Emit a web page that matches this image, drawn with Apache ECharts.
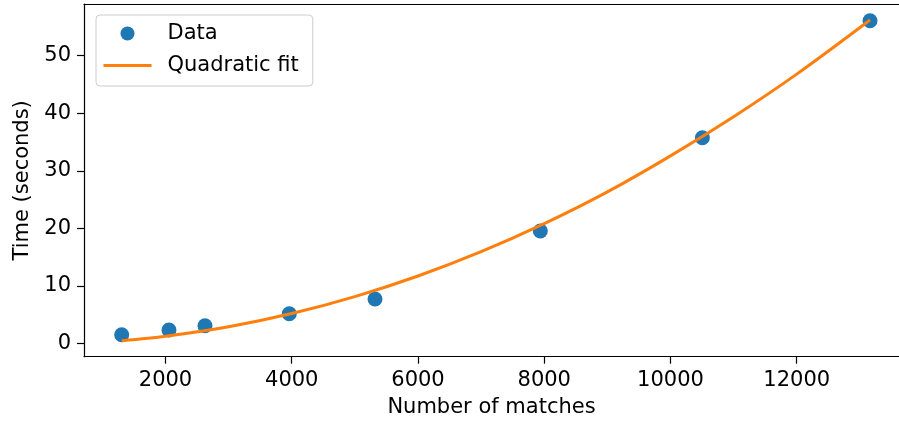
<!DOCTYPE html>
<html>
<head>
<meta charset="utf-8">
<script src="https://cdn.jsdelivr.net/npm/echarts@6/dist/echarts.min.js"></script>
<style>html,body{margin:0;padding:0;background:#fff}#c{width:899px;height:427px}</style>
</head>
<body>
<div id="c"></div>
<script>
// Data
const matches = [1306, 2055, 2626, 3961, 5319, 7938, 10505, 13161];
const times = [1.53, 2.35, 3.09, 5.18, 7.73, 19.55, 35.75, 56.08];
// Quadratic fit curve
const fitX = [1306, 2000, 3000, 4000, 5000, 6000, 7000, 8000, 9000, 10000, 11000, 12000, 13161];
const fitY = [0.49, 1.26, 2.91, 5.20, 8.14, 11.73, 15.95, 20.82, 26.34, 32.60, 39.40, 46.80, 56.2];
const xTicks = [2000, 4000, 6000, 8000, 10000, 12000];
const yTicks = [0, 10, 20, 30, 40, 50];
const seriesNames = ['Data', 'Quadratic fit'];

const font = 'DejaVu Sans';
const chart = echarts.init(document.getElementById('c'), null, {renderer: 'canvas'});
const axisLineStyle = {color: '#000', width: 1.2};
chart.setOption({
  animation: false,
  backgroundColor: '#ffffff',
  grid: {left: 84, top: 4, right: 0, bottom: 70.3},
  legend: {
    orient: 'vertical', left: 96, top: 15,
    padding: [8, 14, 10, 6], itemGap: 11,
    itemWidth: 48, itemHeight: 14,
    borderColor: '#cccccc', borderWidth: 1, borderRadius: 4,
    backgroundColor: 'rgba(255,255,255,0.8)',
    textStyle: {fontFamily: font, fontSize: 21, color: '#000', padding: [0, 0, 0, 11]},
    data: [
      {name: seriesNames[0], icon: 'circle'},
      {name: seriesNames[1], itemStyle: {opacity: 0}, lineStyle: {color: '#ff7f0e', width: 3, opacity: 1}}
    ]
  },
  xAxis: [{
    type: 'value', min: 709, max: 13620,
    name: 'Number of matches', nameLocation: 'middle', nameGap: 40,
    nameTextStyle: {fontFamily: font, fontSize: 21, color: '#000'},
    axisLine: {show: true, onZero: false, lineStyle: axisLineStyle},
    axisTick: {show: true, length: 7, lineStyle: axisLineStyle, customValues: xTicks},
    axisLabel: {fontFamily: font, fontSize: 21, color: '#000', margin: 13, customValues: xTicks,
      formatter: v => String(v)},
    splitLine: {show: false}
  }, {
    type: 'value', position: 'top', min: 709, max: 13620,
    axisLine: {show: true, onZero: false, lineStyle: axisLineStyle},
    axisTick: {show: false}, axisLabel: {show: false}, splitLine: {show: false}
  }],
  yAxis: {
    type: 'value', min: -2.29, max: 58.98,
    name: 'Time (seconds)', nameLocation: 'middle', nameGap: 50, nameRotate: 90,
    nameTextStyle: {fontFamily: font, fontSize: 21, color: '#000'},
    axisLine: {show: true, onZero: false, lineStyle: axisLineStyle},
    axisTick: {show: true, length: 7, lineStyle: axisLineStyle, customValues: yTicks},
    axisLabel: {fontFamily: font, fontSize: 21, color: '#000', margin: 13, customValues: yTicks,
      padding: [3, 0, 0, 0], formatter: v => String(v)},
    splitLine: {show: false}
  },
  series: [
    {
      name: seriesNames[0], type: 'scatter', symbol: 'circle', symbolSize: 15,
      itemStyle: {color: '#1f77b4', opacity: 1},
      data: matches.map((m, i) => [m, times[i]])
    },
    {
      name: seriesNames[1], type: 'line', symbol: 'none', smooth: 0.3,
      lineStyle: {color: '#ff7f0e', width: 3},
      itemStyle: {color: '#ff7f0e'},
      data: fitX.map((x, i) => [x, fitY[i]])
    }
  ]
});
</script>
</body>
</html>
